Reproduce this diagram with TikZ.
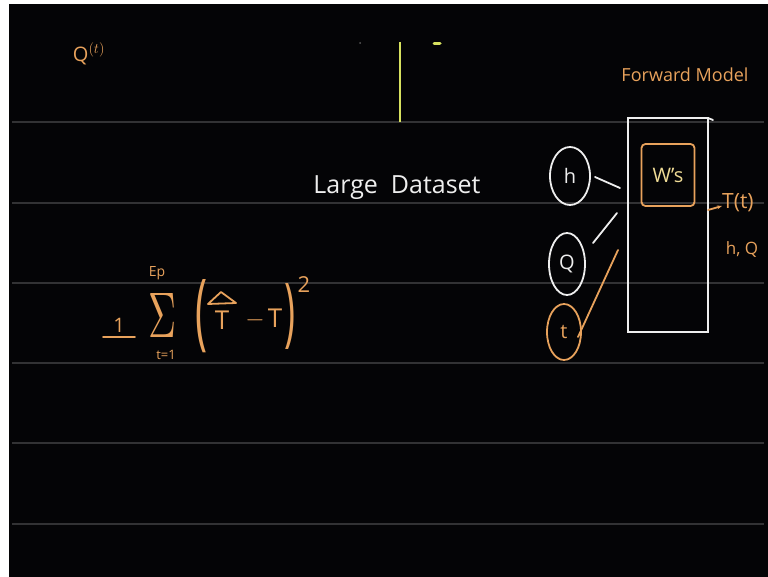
\documentclass[tikz,border=0pt]{standalone}
\usepackage{amsmath}
\usepackage{graphicx}
\usepackage{fontspec}
\setmainfont{Open Sans}
\usetikzlibrary{shapes.geometric,arrows.meta}
\definecolor{chalkorange}{RGB}{232,162,92}
\definecolor{chalkwhite}{RGB}{238,238,238}
\definecolor{chalkpale}{RGB}{240,220,150}
\definecolor{ruleline}{RGB}{50,50,52}
\definecolor{dotgray}{RGB}{90,90,90}
\definecolor{board}{RGB}{4,4,6}
\definecolor{chalkyellow}{RGB}{215,225,95}
\begin{document}
\begin{tikzpicture}[x=1pt,y=-1pt,
  chalk/.style={line width=1.8pt,line cap=round,line join=round},
  wtext/.style={text=chalkwhite,inner sep=0pt},
  otext/.style={text=chalkorange,inner sep=0pt},
  ring/.style={ellipse,draw=chalkwhite,line width=1.8pt,minimum width=40pt,minimum height=58pt,inner sep=0pt,text=chalkwhite,font=\fontsize{20}{22}\selectfont},
]
\useasboundingbox (0,0) rectangle (768,577);
\fill[white] (0,0) rectangle (768,577);
\fill[board] (9,4) rectangle (768,577);
\foreach \yy in {122,203,283,363,443,524} \draw[ruleline,line width=1.5pt] (12,\yy) -- (764,\yy);

% top left label
\node[otext,font=\fontsize{20}{22}\selectfont] (qlab) at (89,54) {Q$^{(t)}$};

% yellow mark
\coordinate (ya) at (400,42);
\coordinate (yb) at (400,122);
\draw[chalkyellow,line width=2pt] (ya) -- (yb);
\coordinate (yd1) at (434,44);
\coordinate (yd2) at (440,44);
\draw[chalkyellow,line width=3pt,line cap=round] (yd1) -- (yd2);
\fill[dotgray] (360,43) circle (1pt);

% Large Dataset
\node[wtext,font=\fontsize{25}{28}\selectfont] (ld) at (397,188) {Large\ \ Dataset};

% Forward model
\node[otext,font=\fontsize{18}{20}\selectfont] (fmlab) at (685,75) {Forward Model};
\node[draw=chalkwhite,line width=1.8pt,minimum width=80pt,minimum height=214pt,inner sep=0pt] (fm) at (668,225) {};
\coordinate (fx1) at (708,118);
\coordinate (fx2) at (713,120);
\draw[chalk,chalkwhite] (fx1) -- (fx2);
\node[draw=chalkorange,line width=1.8pt,rounded corners=4pt,minimum width=53pt,minimum height=62pt,inner sep=0pt,text=chalkpale,font=\fontsize{20}{22}\selectfont] (ws) at (668,175) {W's};

% inputs
\node[ring] (h) at (570,176) {h};
\node[ring,minimum width=36pt,minimum height=62pt] (q) at (567,264) {Q};
\node[ring,draw=chalkorange,text=chalkorange,minimum width=34pt,minimum height=56pt] (t) at (564,332) {t};

\coordinate (hA) at (595,177);
\coordinate (hB) at (620,188);
\coordinate (qA) at (593,243);
\coordinate (qB) at (617,213);
\coordinate (tA) at (578,337);
\coordinate (tB) at (618,250);
\draw[chalk,chalkwhite] (hA) -- (hB);
\draw[chalk,chalkwhite] (qA) -- (qB);
\draw[chalk,chalkorange] (tA) -- (tB);

% output
\coordinate (oA) at (708,210);
\coordinate (oB) at (722,206);
\draw[chalk,chalkorange,-{Stealth[length=5pt]}] (oA) -- (oB);
\node[otext,font=\fontsize{21}{23}\selectfont,anchor=west] (tout) at (722,203) {T(t)};
\node[otext,font=\fontsize{17}{19}\selectfont] (hq) at (742,249) {h, Q};

% equation
\node[otext,font=\fontsize{20}{22}\selectfont] (one) at (119,325) {1};
\coordinate (u1) at (103,337);
\coordinate (u2) at (135,337);
\draw[chalk,chalkorange] (u1) -- (u2);
\node[otext] (sig) at (163,315) {\resizebox{28pt}{44pt}{$\Sigma$}};
\node[otext,font=\fontsize{14}{16}\selectfont] (ep) at (157,273) {Ep};
\node[otext,font=\fontsize{13}{15}\selectfont] (tlow) at (166,355) {t=1};
\node[otext] (lp) at (201,316) {\resizebox{12pt}{60pt}{(}};
\node[otext,font=\fontsize{26}{28}\selectfont] (that) at (222,320) {T};
\coordinate (hat1) at (208,304);
\coordinate (hat2) at (221,292);
\coordinate (hat3) at (236,303);
\draw[chalk,chalkorange] (hat1) -- (hat2) -- (hat3) -- cycle;
\node[otext,font=\fontsize{26}{28}\selectfont] (minus) at (255,320) {$-$};
\node[otext,font=\fontsize{26}{28}\selectfont] (tt) at (275,318) {T};
\node[otext] (rp) at (290,316) {\resizebox{11pt}{54pt}{)}};
\node[otext,font=\fontsize{22}{24}\selectfont] (sq) at (304,285) {2};
\end{tikzpicture}
\end{document}
